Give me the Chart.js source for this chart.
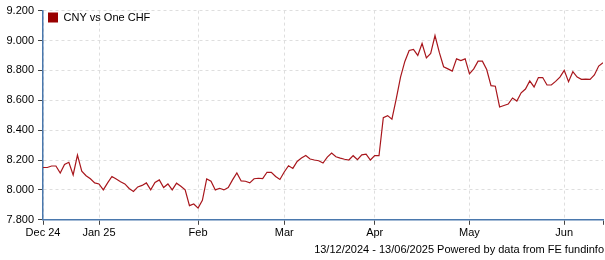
<!DOCTYPE html>
<html>
<head>
<meta charset="utf-8">
<title>CNY vs One CHF</title>
<script src="https://cdn.jsdelivr.net/npm/chart.js@4.4.1/dist/chart.umd.min.js"></script>
<style>
  html, body { margin: 0; padding: 0; background: #ffffff; }
  #wrap { position: relative; width: 605px; height: 260px; }
</style>
</head>
<body>
<div id="wrap"><canvas id="fx-chart" width="605" height="260"></canvas></div>
<script>
'use strict';

// ── Data (one value per trading day) ────────────────────────────────────────
const SERIES_LABEL = 'CNY vs One CHF';

const RATE_VALUES = [
  8.150, 8.150, 8.160, 8.160, 8.113, 8.170, 8.185, 8.100, 8.233, 8.125,
  8.095, 8.075, 8.047, 8.040, 8.000, 8.047, 8.090, 8.073, 8.055, 8.040,
  8.010, 7.990, 8.020, 8.030, 8.047, 8.000, 8.050, 8.067, 8.016, 8.040,
  8.000, 8.045, 8.025, 8.000, 7.895, 7.906, 7.878, 7.930, 8.073, 8.058,
  8.000, 8.011, 8.000, 8.016, 8.067, 8.113, 8.060, 8.058, 8.047, 8.075,
  8.078, 8.075, 8.118, 8.118, 8.090, 8.070, 8.120, 8.162, 8.144, 8.190,
  8.213, 8.230, 8.207, 8.200, 8.195, 8.180, 8.220, 8.247, 8.222, 8.213,
  8.205, 8.200, 8.229, 8.202, 8.235, 8.240, 8.200, 8.229, 8.229, 8.484,
  8.497, 8.473, 8.610, 8.755, 8.860, 8.933, 8.940, 8.900, 8.980, 8.884,
  8.913, 9.033, 8.920, 8.824, 8.810, 8.795, 8.877, 8.865, 8.877, 8.777,
  8.810, 8.862, 8.862, 8.806, 8.698, 8.694, 8.555, 8.565, 8.575, 8.615,
  8.595, 8.650, 8.675, 8.729, 8.689, 8.752, 8.752, 8.702, 8.702, 8.726,
  8.755, 8.800, 8.724, 8.791, 8.755, 8.740, 8.742, 8.740, 8.769, 8.829,
  8.851
];

// Month ticks sit on the trading-day index where each month starts.
const MONTH_TICK_INDEX  = [0, 13, 36, 56, 77, 99, 121, 130];
const MONTH_TICK_LABELS = ['Dec 24', 'Jan 25', 'Feb', 'Mar', 'Apr', 'May', 'Jun', ''];

const Y_MIN  = 7.8;
const Y_MAX  = 9.2;
const Y_STEP = 0.2;

const FOOTER_TEXT = '13/12/2024 - 13/06/2025 Powered by data from FE fundinfo';

// ── Styling ─────────────────────────────────────────────────────────────────
const FONT_FAMILY = '"Liberation Sans", Arial, sans-serif';
const LINE_COLOR  = '#a8161c';
const KEY_COLOR   = '#990000';
const AXIS_COLOR  = '#4a78ad';
const GRID_COLOR  = '#dedede';
const TICK_COLOR  = '#444444';

Chart.defaults.font.family = FONT_FAMILY;
Chart.defaults.font.size   = 11;
Chart.defaults.color       = '#000000';

const points = RATE_VALUES.map(function (v, i) { return { x: i, y: v }; });
const lastIndex = RATE_VALUES.length - 1;

new Chart(document.getElementById('fx-chart'), {
  type: 'line',
  data: {
    datasets: [{
      label: SERIES_LABEL,
      data: points,
      borderColor: LINE_COLOR,
      backgroundColor: KEY_COLOR,
      borderWidth: 1.2,
      pointRadius: 0,
      tension: 0,
      fill: false,
    }],
  },
  options: {
    responsive: false,
    animation: false,
    layout: { padding: { top: 9, right: 1, left: 0, bottom: 0 } },
    plugins: {
      legend: {
        position: 'chartArea',
        align: 'start',
        // empty title only pushes the key down a few pixels
        title: { display: true, text: '', font: { size: 5 }, padding: { top: 1, bottom: 0 } },
        labels: {
          boxWidth: 10,
          boxHeight: 10,
          padding: 5,
          color: '#000000',
          font: { size: 11 },
          generateLabels: function () {
            return [{
              text: SERIES_LABEL,
              fillStyle: KEY_COLOR,
              strokeStyle: KEY_COLOR,
              lineWidth: 0,
              datasetIndex: 0,
            }];
          },
        },
      },
      title: {
        display: true,
        position: 'bottom',
        align: 'end',
        text: FOOTER_TEXT,
        color: '#000000',
        font: { size: 11, weight: 'normal' },
        padding: { top: 2, bottom: 3 },
      },
      tooltip: { enabled: false },
    },
    scales: {
      x: {
        type: 'linear',
        min: 0,
        max: lastIndex,
        afterFit: function (scale) { scale.height = 22; },
        afterBuildTicks: function (scale) {
          scale.ticks = MONTH_TICK_INDEX.map(function (v) { return { value: v }; });
        },
        ticks: {
          autoSkip: false,
          maxRotation: 0,
          padding: 2,
          callback: function (value) {
            const k = MONTH_TICK_INDEX.indexOf(value);
            return k >= 0 ? MONTH_TICK_LABELS[k] : '';
          },
        },
        grid: {
          color: function (ctx) {
            return (ctx.tick && ctx.tick.value === lastIndex) ? 'rgba(0,0,0,0)' : GRID_COLOR;
          },
          tickColor: TICK_COLOR,
          tickLength: 5,
          lineWidth: 1,
        },
        border: { color: AXIS_COLOR, width: 1.5, dash: [3, 3] },
      },
      y: {
        min: Y_MIN,
        max: Y_MAX,
        afterFit: function (scale) { scale.width = 43; },
        ticks: {
          stepSize: Y_STEP,
          padding: 4,
          callback: function (value) { return Number(value).toFixed(3); },
        },
        grid: {
          color: GRID_COLOR,
          tickColor: TICK_COLOR,
          tickLength: 5,
          lineWidth: 1,
        },
        border: { color: AXIS_COLOR, width: 1.5, dash: [3, 3] },
      },
    },
  },
});
</script>
</body>
</html>
